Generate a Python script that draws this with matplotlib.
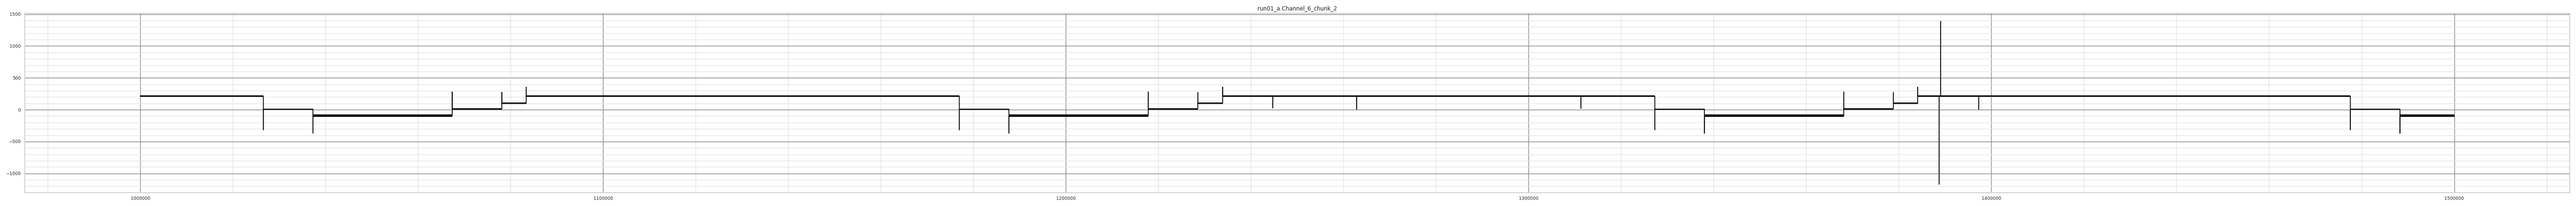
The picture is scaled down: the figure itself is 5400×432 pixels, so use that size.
import numpy as np
import matplotlib
matplotlib.use("Agg")
import matplotlib.pyplot as plt
from matplotlib.ticker import MultipleLocator

# step transitions: position, spike tip, level after the step
trans_x = [1026600, 1037300, 1067440, 1078160, 1083420,
           1177000, 1187700, 1217800, 1228500, 1233900,
           1327290, 1337970, 1368110, 1378830, 1384100,
           1477600, 1488250]
trans_spike = [-315, -370, 275, 267, 354,
               -315, -370, 275, 267, 354,
               -315, -370, 275, 267, 354,
               -315, -370]
levels = [212, 8, -95, 12, 100, 212,
          8, -95, 12, 100, 212,
          8, -95, 12, 100, 212,
          8, -95]
# half width of the noisy band on each level
noise = [11, 8, 17, 8, 10, 11,
         8, 17, 8, 10, 11,
         8, 17, 8, 10, 11,
         8, 17]

# isolated glitches on the 200 plateau
glitch_x = [1244730, 1262840, 1311340, 1388710, 1389020, 1397300]
glitch_y = [32, 10, 25, -1170, 1385, 10]

x_start, x_end = 1000000, 1500000
title = "run01_a.Channel_6_chunk_2"

# build the path
seg_x = [x_start] + trans_x + [x_end]
events = [(x, 't', s, i) for i, (x, s) in enumerate(zip(trans_x, trans_spike))]
events += [(x, 'g', y, None) for x, y in zip(glitch_x, glitch_y)]
events.sort(key=lambda e: e[0])

px, py = [x_start], [levels[0]]
cur = levels[0]
for x, kind, val, i in events:
    px += [x, x]
    py += [cur, val]
    if kind == 't':
        cur = levels[i + 1]
    px.append(x)
    py.append(cur)
px.append(x_end)
py.append(cur)

fig, ax = plt.subplots(figsize=(54, 4.32), dpi=100)
fig.subplots_adjust(left=0.00957, right=0.9976, top=0.935, bottom=0.0648)

lv = np.array(levels + [levels[-1]])
nz = np.array(noise + [noise[-1]])
ax.fill_between(seg_x, lv - nz, lv + nz, step='post', color='black', lw=0, zorder=3)
ax.plot(px, py, color='black', lw=1.2, zorder=4)

ax.set_xlim(975000, 1525000)
ax.set_ylim(-1302, 1512)
ax.ticklabel_format(axis='x', style='plain', useOffset=False)
ax.xaxis.set_major_locator(MultipleLocator(100000))
ax.xaxis.set_minor_locator(MultipleLocator(20000))
ax.yaxis.set_major_locator(MultipleLocator(500))
ax.yaxis.set_minor_locator(MultipleLocator(100))
ax.grid(which='major', color='#888888', lw=1.0, zorder=1)
ax.grid(which='minor', color='#e3e3e3', lw=0.9, zorder=0)
ax.set_axisbelow(True)
ax.tick_params(which='both', length=0, pad=6, labelsize=6.7, labelcolor='#262626')
for s in ax.spines.values():
    s.set_color('#cccccc')
    s.set_linewidth(1.2)
ax.set_title(title, fontsize=8.4, color='#262626', pad=5)

plt.savefig("out.png", dpi=100)
